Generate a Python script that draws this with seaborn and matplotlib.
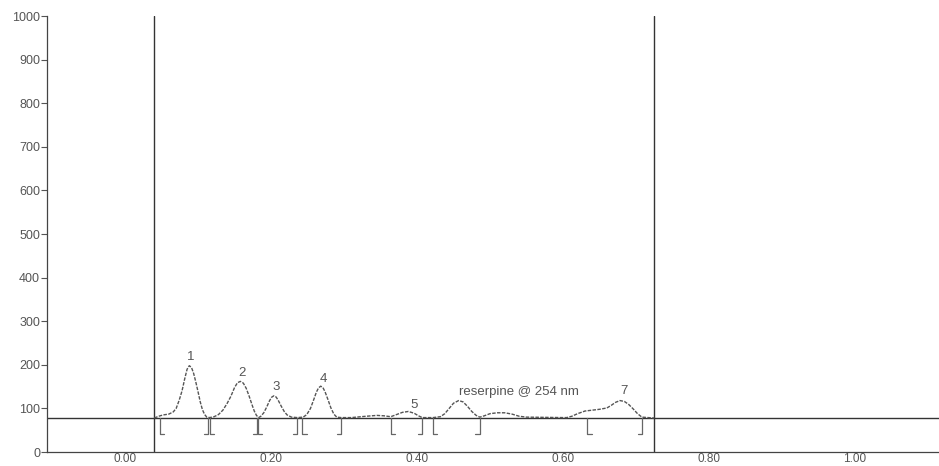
import matplotlib
matplotlib.use('Agg')
import matplotlib.pyplot as plt
import seaborn as sns
import pandas as pd

sns.set_theme(style='white')
plt.rcParams['font.family'] = ['Liberation Sans', 'DejaVu Sans']

# trace (time, response)
trace_t = [0.040, 0.046, 0.052, 0.060, 0.066, 0.070, 0.074, 0.078, 0.082, 0.085, 0.088,
           0.091, 0.094, 0.097, 0.100, 0.103, 0.106, 0.109, 0.112,
           0.116, 0.122, 0.128, 0.134, 0.140, 0.145, 0.150, 0.154, 0.158,
           0.162, 0.166, 0.170, 0.174, 0.177, 0.180, 0.183,
           0.186, 0.190, 0.194, 0.198, 0.201, 0.204, 0.207, 0.210, 0.214,
           0.218, 0.222, 0.228, 0.236,
           0.244, 0.249, 0.254, 0.258, 0.262, 0.265, 0.268, 0.271, 0.274,
           0.278, 0.282, 0.286, 0.290, 0.296,
           0.310, 0.330, 0.345, 0.355, 0.364,
           0.372, 0.380, 0.388, 0.396, 0.402, 0.407,
           0.422, 0.432, 0.438, 0.444, 0.450, 0.457, 0.463, 0.469, 0.475, 0.481, 0.486,
           0.492, 0.500, 0.510, 0.520, 0.530, 0.540, 0.550, 0.600,
           0.605, 0.612, 0.620, 0.630, 0.640, 0.650, 0.660, 0.666, 0.672, 0.678,
           0.684, 0.690, 0.696, 0.702, 0.708, 0.725]
trace_y = [78, 82, 85, 87, 92, 100, 118, 140, 170, 190, 198,
           194, 180, 160, 138, 115, 97, 86, 80,
           79, 81, 86, 96, 112, 128, 148, 159, 162,
           158, 146, 128, 108, 94, 84, 79,
           82, 90, 103, 118, 126, 129, 126, 118, 105,
           93, 85, 80, 79,
           80, 86, 100, 118, 137, 147, 151, 148, 138,
           120, 101, 87, 80, 79,
           79, 82, 84, 83, 81,
           86, 91, 93, 89, 83, 79,
           79, 81, 88, 100, 112, 118, 115, 105, 93, 84, 80,
           83, 88, 90, 90, 87, 82, 80, 79,
           79, 82, 88, 94, 96, 98, 101, 107, 114, 118,
           116, 109, 99, 88, 80, 78]

baseline = 78
markers = [0.040, 0.725]
# integration marks: start marks open to the right, end marks to the left
starts = [0.048, 0.116, 0.182, 0.243, 0.364, 0.422, 0.633]
ends = [0.114, 0.181, 0.236, 0.296, 0.407, 0.486, 0.708]

labels = ['1', '2', '3', '4', '5', 'reserpine @ 254 nm', '7']
label_t = [0.090, 0.160, 0.207, 0.271, 0.396, 0.540, 0.684]
label_y = [218, 182, 149, 167, 108, 138, 140]

xticks = [0.00, 0.20, 0.40, 0.60, 0.80, 1.00]
yticks = [0, 100, 200, 300, 400, 500, 600, 700, 800, 900, 1000]

df = pd.DataFrame({'t': trace_t, 'y': trace_y})

fig = plt.figure(figsize=(9.39, 4.66), dpi=100)
ax = fig.add_axes([0.05, 0.030, 0.95, 0.9356])

ax.axhline(baseline, color='#333333', lw=1.0, zorder=1)
for m in markers:
    ax.axvline(m, color='#333333', lw=1.0)
sns.lineplot(data=df, x='t', y='y', ax=ax, color='#555555', lw=1.0,
             linestyle=(0, (2.5, 1)), zorder=3)

low = 42
foot = 0.006
for s in starts:
    ax.plot([s + foot, s, s], [low, low, baseline], color='#666666', lw=0.9)
for e in ends:
    ax.plot([e - foot, e, e], [low, low, baseline], color='#666666', lw=0.9)

for txt, lt, ly in zip(labels, label_t, label_y):
    ax.text(lt, ly, txt, ha='center', va='center', fontsize=9.5, color='#555555')

ax.set_xlim(-0.107, 1.115)
ax.set_ylim(0, 1000)
ax.set_xticks(xticks)
ax.set_xticklabels([f'{v:.2f}' for v in xticks])
ax.set_yticks(yticks)
ax.set_xlabel('')
ax.set_ylabel('')
ax.tick_params(axis='x', length=0, pad=1, labelsize=8.5, labelcolor='#555555')
ax.tick_params(axis='y', length=4, width=0.8, pad=1, labelsize=9,
               labelcolor='#555555', color='#555555', left=True)
for side in ['top', 'right']:
    ax.spines[side].set_visible(False)
for side in ['left', 'bottom']:
    ax.spines[side].set_color('#444444')
    ax.spines[side].set_linewidth(0.9)

fig.savefig('out.png', dpi=100)
